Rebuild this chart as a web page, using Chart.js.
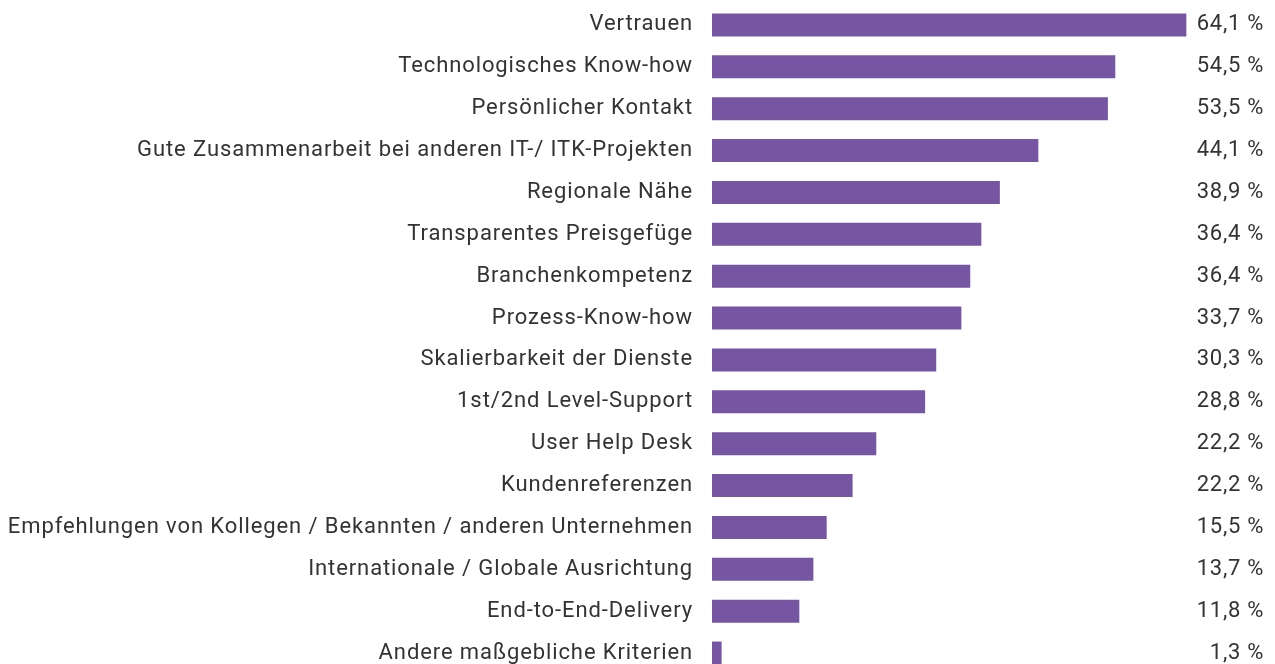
<!DOCTYPE html>
<html><head><meta charset="utf-8">
<script src="https://cdn.jsdelivr.net/npm/chart.js@4/dist/chart.umd.min.js"></script>
<style>html,body{margin:0;padding:0;overflow:hidden;background:#fff}#wrap{width:1275px;height:674px;position:relative}</style>
</head><body><div id="wrap"><canvas id="c"></canvas></div>
<script>
const categories = ["Vertrauen","Technologisches Know-how","Persönlicher Kontakt","Gute Zusammenarbeit bei anderen IT-/ ITK-Projekten","Regionale Nähe","Transparentes Preisgefüge","Branchenkompetenz","Prozess-Know-how","Skalierbarkeit der Dienste","1st/2nd Level-Support","User Help Desk","Kundenreferenzen","Empfehlungen von Kollegen / Bekannten / anderen Unternehmen","Internationale / Globale Ausrichtung","End-to-End-Delivery","Andere maßgebliche Kriterien"];
const barValues = [64.1,54.5,53.5,44.1,38.9,36.4,34.9,33.7,30.3,28.8,22.2,19.0,15.5,13.7,11.8,1.3];
const valueLabels = ["64,1 %","54,5 %","53,5 %","44,1 %","38,9 %","36,4 %","36,4 %","33,7 %","30,3 %","28,8 %","22,2 %","22,2 %","15,5 %","13,7 %","11,8 %","1,3 %"];
const FONT = 'Roboto, "Liberation Sans", sans-serif';
const spacingPlugin = {
  id:'spacing',
  beforeDraw(chart){ chart.ctx.letterSpacing = '0.9px'; }
};
const valuePlugin = {
  id:'valueLabels',
  afterDatasetsDraw(chart){
    const {ctx} = chart; const meta = chart.getDatasetMeta(0);
    ctx.save(); ctx.letterSpacing = '0.7px'; ctx.font = '22px ' + FONT; ctx.fillStyle = '#333'; ctx.textAlign='right'; ctx.textBaseline='middle';
    meta.data.forEach((bar,i)=>{ ctx.fillText(valueLabels[i], 1264, bar.y); });
    ctx.restore();
  }
};
new Chart(document.getElementById('c'),{
  type:'bar',
  data:{labels:categories,datasets:[{data:barValues,backgroundColor:'#7655a2',barPercentage:0.55,categoryPercentage:1}]},
  options:{indexAxis:'y',responsive:true,maintainAspectRatio:false,animation:false,
    layout:{padding:{top:4,bottom:0,left:0,right:45}},
    plugins:{legend:{display:false},tooltip:{enabled:false}},
    scales:{
      x:{display:false,min:0,max:70},
      y:{grid:{display:false,drawTicks:false},border:{display:false},
         ticks:{padding:19,color:'#333',font:{family:FONT,size:22}},
         afterFit(s){s.width=712;s.paddingTop=0;s.paddingBottom=0;}}
    }},
  plugins:[spacingPlugin,valuePlugin]
});
</script></body></html>
